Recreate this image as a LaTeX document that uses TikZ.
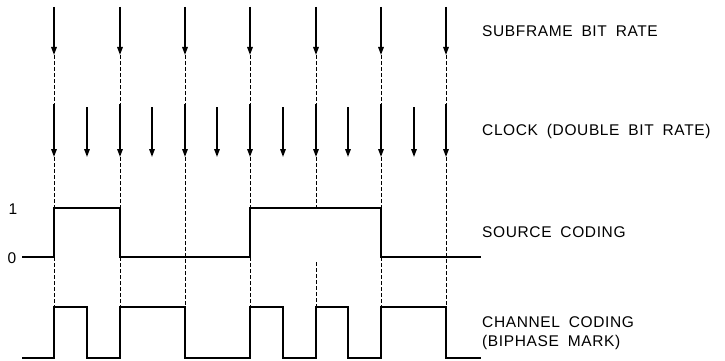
\documentclass[tikz,border=0pt]{standalone}
\usepackage{fontspec}
\setmainfont{Liberation Sans}[LetterSpace=4,WordSpace=1.8]
\usetikzlibrary{arrows.meta}
\tikzset{
  arr/.style={line width=1.5pt,-{Triangle[length=8pt,width=5.5pt]}},
  guide/.style={line width=1pt,dash pattern=on 4pt off 2pt},
  wave/.style={line width=2.5pt,line join=miter},
  lbl/.style={anchor=west,inner sep=0pt,font=\fontsize{15.5}{19}\selectfont}
}
\newcommand{\bitarrow}[2]{%
  \coordinate (#1a) at (#2,7);
  \coordinate (#1b) at (#2,55);
  \coordinate (#1c) at (#2,104);
  \coordinate (#1d) at (#2,157);
  \draw[arr] (#1a) -- (#1b);
  \draw[guide] (#1b) -- (#1c);
  \draw[arr] (#1c) -- (#1d);}
\newcommand{\halfarrow}[2]{%
  \coordinate (#1a) at (#2,107);
  \coordinate (#1d) at (#2,157);
  \draw[arr] (#1a) -- (#1d);}
\newcommand{\guideline}[3]{\draw[guide] (#1,#2) -- (#1,#3);}
\begin{document}
\begin{tikzpicture}[x=1pt,y=-1pt]
    \useasboundingbox (0,0) rectangle (725,361);

    % subframe bit rate
    \bitarrow{b0}{54}
    \bitarrow{b1}{120}
    \bitarrow{b2}{185}
    \bitarrow{b3}{250}
    \bitarrow{b4}{316}
    \bitarrow{b5}{381}
    \bitarrow{b6}{446}

    % clock, half bit
    \halfarrow{h0}{87}
    \halfarrow{h1}{152}
    \halfarrow{h2}{217}
    \halfarrow{h3}{283}
    \halfarrow{h4}{348}
    \halfarrow{h5}{414}

    % guides
    \guideline{54}{157}{208}  \guideline{54}{257}{307}
    \guideline{120}{157}{208} \guideline{120}{257}{307}
    \guideline{185}{157}{307}
    \guideline{250}{157}{208} \guideline{250}{257}{307}
    \guideline{316}{157}{208} \guideline{316}{262}{307}
    \guideline{381}{157}{208} \guideline{381}{257}{307}
    \guideline{446}{157}{307}

    % source coding
    \draw[wave] (22,257) -- (54,257) -- (54,208) -- (120,208) -- (120,257)
        -- (250,257) -- (250,208) -- (381,208) -- (381,257) -- (481,257);
    \node[inner sep=0pt,font=\fontsize{15.5}{18}\selectfont] (one) at (13,209) {1};
    \node[inner sep=0pt,font=\fontsize{15.5}{18}\selectfont] (zero) at (12,258) {0};

    % channel coding
    \draw[wave] (22,358) -- (54,358) -- (54,307) -- (87,307) -- (87,358)
        -- (120,358) -- (120,307) -- (185,307) -- (185,358) -- (250,358)
        -- (250,307) -- (283,307) -- (283,358) -- (316,358) -- (316,307)
        -- (348,307) -- (348,358) -- (381,358) -- (381,307) -- (446,307)
        -- (446,358) -- (481,358);

    % labels
    \node[lbl] (sbr) at (482,31) {SUBFRAME BIT RATE};
    \node[lbl] (clk) at (482,131) {CLOCK (DOUBLE BIT RATE)};
    \node[lbl] (src) at (482,232) {SOURCE CODING};
    \node[lbl,align=left] (chn) at (482,333) {CHANNEL CODING\\(BIPHASE MARK)};
\end{tikzpicture}
\end{document}
